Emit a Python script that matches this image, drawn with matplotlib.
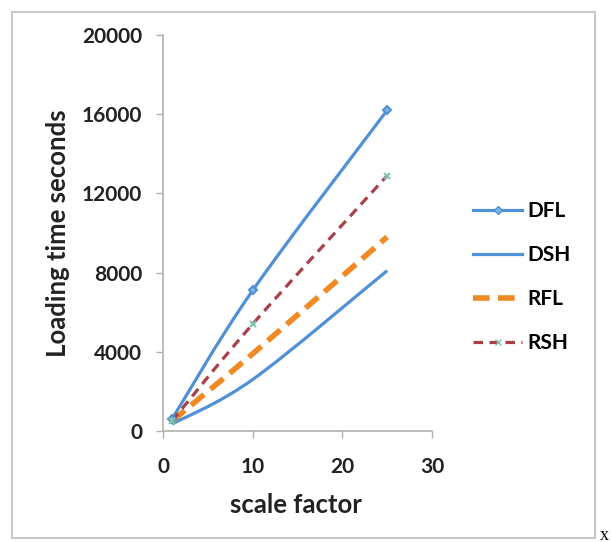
import matplotlib
matplotlib.use("Agg")
import matplotlib.pyplot as plt
from matplotlib.path import Path
from matplotlib.patches import PathPatch, Rectangle
from matplotlib.lines import Line2D
import numpy as np

plt.rcParams['font.family'] = ['Lato', 'DejaVu Sans']

scale = [1, 10, 25]
dfl = [600, 7100, 16200]
dsh = [350, 2600, 8100]
rfl = [500, 3900, 9800]
rsh = [500, 5400, 12900]
series_names = ["DFL", "DSH", "RFL", "RSH"]
xticks = [0, 10, 20, 30]
yticks = [0, 4000, 8000, 12000, 16000, 20000]

fig = plt.figure(figsize=(6.11, 5.42), dpi=100)
fig.patches.append(Rectangle((12/611, 1-538/542), (595-12)/611, (538-12)/542,
                             transform=fig.transFigure, fill=False,
                             edgecolor='#c8c8c8', linewidth=1.5))
ax = fig.add_axes([163/611, 1-431/542, (432-163)/611, (431-35)/542])


def smooth_path(x, y):
    pts = np.column_stack([x, y]).astype(float)
    verts = [pts[0]]
    codes = [Path.MOVETO]
    n = len(pts)
    for i in range(n - 1):
        p0 = pts[i - 1] if i > 0 else pts[i]
        p1 = pts[i]
        p2 = pts[i + 1]
        p3 = pts[i + 2] if i + 2 < n else pts[i + 1]
        c1 = p1 + (p2 - p0) / 6.0
        c2 = p2 - (p3 - p1) / 6.0
        verts += [c1, c2, p2]
        codes += [Path.CURVE4] * 3
    return Path(verts, codes)


styles = [
    dict(color='#4F90D6', lw=2.3, ls='-', marker='D', ms=4.5, mfc='#7FB2E5', mec='#4F90D6'),
    dict(color='#4F90D6', lw=2.3, ls='-', marker=None),
    dict(color='#F08A24', lw=4.0, ls=(0, (3, 1.5)), marker=None),
    dict(color='#A8404A', lw=2.3, ls=(0, (3, 2)), marker='x', ms=5, mfc='#7FC4A8', mec='#7FC4A8'),
]
data = [dfl, dsh, rfl, rsh]
handles = []
for name, vals, st in zip(series_names, data, styles):
    patch = PathPatch(smooth_path(scale, vals), fill=False, edgecolor=st['color'],
                      linewidth=st['lw'], linestyle=st['ls'], capstyle='butt', zorder=3)
    ax.add_patch(patch)
    if st['marker']:
        ax.plot(scale, vals, linestyle='none', marker=st['marker'], ms=st['ms'],
                mfc=st['mfc'], mec=st['mec'], mew=1.5, zorder=4)
    handles.append(Line2D([], [], color=st['color'], lw=st['lw'], ls=st['ls'],
                          marker=st['marker'] if st['marker'] else None,
                          ms=st.get('ms', 0), mfc=st.get('mfc'), mec=st.get('mec')))

ax.set_xlim(0, 30)
ax.set_ylim(0, 20000)
ax.set_xticks(xticks)
ax.set_yticks(yticks)
ax.set_xticklabels([str(t) for t in xticks], fontsize=15, fontweight='bold', color='#222222')
ax.set_yticklabels([str(t) for t in yticks], fontsize=15, fontweight='bold', color='#222222')
for s in ['top', 'right']:
    ax.spines[s].set_visible(False)
for s in ['left', 'bottom']:
    ax.spines[s].set_color('#b0b0b0')
    ax.spines[s].set_linewidth(1.2)
ax.tick_params(axis='both', direction='out', length=5, color='#b0b0b0', width=1)
ax.tick_params(axis='y', pad=10)
ax.tick_params(axis='x', pad=14)
ax.set_xlabel('scale factor', fontsize=18.5, fontweight='bold', color='#222222', va='center')
ax.set_ylabel('Loading time seconds', fontsize=18.5, fontweight='bold', color='#222222', va='center')
ax.xaxis.set_label_coords(0.495, (431-505)/396)
ax.yaxis.set_label_coords((58-163)/269, 0.5)

fig.legend(handles, series_names, loc='upper left', bbox_to_anchor=(465/611, 1-193/542),
           frameon=False, prop={'weight': 'bold', 'size': 15},
           handlelength=2.35, labelspacing=1.15, handletextpad=0.25, borderaxespad=0)

fig.text(600/611, 1-535/542, 'x', fontsize=13, family='Liberation Serif', va='center', ha='left')

fig.savefig('out.png', dpi=100)
